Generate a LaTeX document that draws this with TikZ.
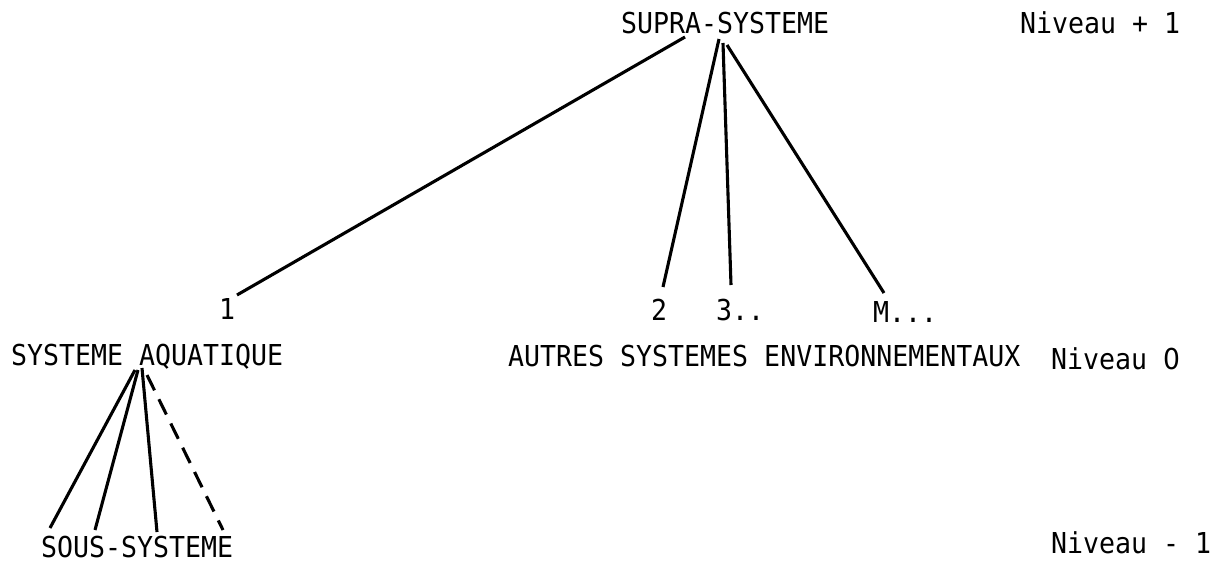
\documentclass[tikz,border=0pt]{standalone}
\usepackage{fontspec}
\newfontfamily\typewriter[FakeStretch=0.923]{DejaVu Sans Mono}
\newfontfamily\plainzero[FakeStretch=0.923]{DejaVu Sans}
\begin{document}
\begin{tikzpicture}[x=1pt,y=-1pt,
  lbl/.style={anchor=base west,inner sep=0pt,font=\typewriter\fontsize{28.8}{30}\selectfont},
  link/.style={line width=3.1pt},
  dashlink/.style={line width=3.1pt,dash pattern=on 17pt off 10pt}]
\useasboundingbox (0,0) rectangle (1226,565);

% level labels and system names
\node[lbl] (supra) at (621,33) {SUPRA-SYSTEME};
\node[lbl] (nivp) at (1020,33) {Niveau + 1};
\node[lbl] (n1) at (219,319) {1};
\node[lbl] (n2) at (651,320) {2};
\node[lbl] (n3) at (716,320) {3..};
\node[lbl] (nm) at (873,322) {M...};
\node[lbl] (aqua) at (11,365) {SYSTEME AQUATIQUE};
\node[lbl] (autres) at (508,366) {AUTRES SYSTEMES ENVIRONNEMENTAUX};
\node[lbl] (niv0) at (1051,369) {Niveau {\plainzero 0}};
\node[lbl] (sous) at (41,557) {SOUS-SYSTEME};
\node[lbl] (nivm) at (1051,553) {Niveau - 1};

% connector end points
\coordinate (sA) at (685,37);
\coordinate (sB) at (719,39);
\coordinate (sC) at (723,43);
\coordinate (sD) at (727,45);
\coordinate (e1) at (237,295);
\coordinate (e2) at (663,287);
\coordinate (e3) at (731,285);
\coordinate (eM) at (884,293);
\coordinate (aA) at (135,370);
\coordinate (aB) at (138,370);
\coordinate (aC) at (142,368);
\coordinate (aD) at (147,375);
\coordinate (u1) at (50,528);
\coordinate (u2) at (95,530);
\coordinate (u3) at (157,532);
\coordinate (u4) at (223,530);

% supra-system to level-0 systems
\draw[link] (sA) -- (e1);
\draw[link] (sB) -- (e2);
\draw[link] (sC) -- (e3);
\draw[link] (sD) -- (eM);

% aquatic system to its sub-systems
\draw[link] (aA) -- (u1);
\draw[link] (aB) -- (u2);
\draw[link] (aC) -- (u3);
\draw[dashlink] (aD) -- (u4);
\end{tikzpicture}
\end{document}
